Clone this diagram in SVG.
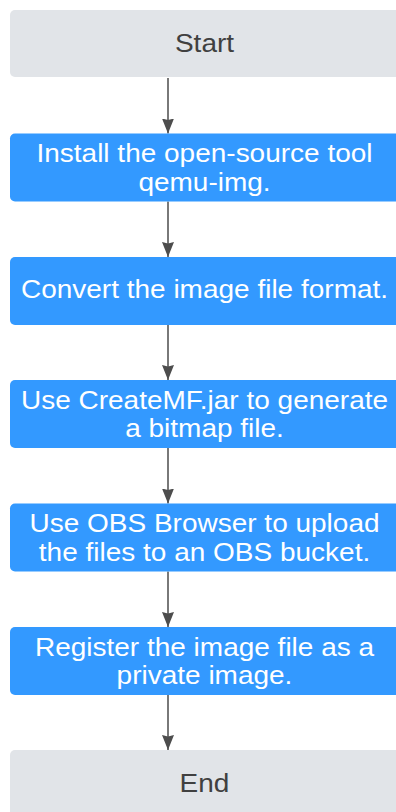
<svg xmlns="http://www.w3.org/2000/svg" width="396" height="812" viewBox="0 0 396 812">
<defs>
<style>
.term{fill:#e1e4e8;}
.step{fill:#3399ff;}
.t{font-family:"Liberation Sans",Arial,sans-serif;font-size:25px;text-anchor:middle;}
.tw{fill:#ffffff;}
.td{fill:#404040;}
.conn{stroke:#4d4d4d;stroke-width:1.5;fill:none;marker-end:url(#ah);}
</style>
<marker id="ah" markerUnits="userSpaceOnUse" markerWidth="15" markerHeight="12" viewBox="0 0 15 12" refX="15" refY="6" orient="auto">
<path d="M0,0 L15,6 L0,12 L1.5,6 Z" fill="#4d4d4d"/>
</marker>
</defs>
<rect width="396" height="812" fill="#ffffff"/>
<g id="connectors">
<line class="conn" x1="168" y1="78" x2="168" y2="133.5"/>
<line class="conn" x1="168" y1="201.5" x2="168" y2="257"/>
<line class="conn" x1="168" y1="325" x2="168" y2="380"/>
<line class="conn" x1="168" y1="448" x2="168" y2="503.5"/>
<line class="conn" x1="168" y1="571.5" x2="168" y2="627"/>
<line class="conn" x1="168" y1="695" x2="168" y2="750"/>
</g>
<g id="start">
<rect class="term" x="10" y="10" width="390" height="67" rx="5"/>
<g transform="translate(204.5,52) scale(1.12,1)"><text class="t td" x="0" y="0">Start</text></g>
</g>
<g id="install">
<rect class="step" x="10" y="133.5" width="390" height="68" rx="5"/>
<g transform="translate(204.5,162) scale(1.12,1)"><text class="t tw" x="0" y="0">Install the open-source tool</text></g>
<g transform="translate(204.5,191) scale(1.12,1)"><text class="t tw" x="0" y="0">qemu-img.</text></g>
</g>
<g id="convert">
<rect class="step" x="10" y="257" width="390" height="68" rx="5"/>
<g transform="translate(204.5,298) scale(1.12,1)"><text class="t tw" x="0" y="0">Convert the image file format.</text></g>
</g>
<g id="createmf">
<rect class="step" x="10" y="380" width="390" height="68" rx="5"/>
<g transform="translate(204.5,408.5) scale(1.12,1)"><text class="t tw" x="0" y="0">Use CreateMF.jar to generate</text></g>
<g transform="translate(204.5,437) scale(1.12,1)"><text class="t tw" x="0" y="0">a bitmap file.</text></g>
</g>
<g id="upload">
<rect class="step" x="10" y="503.5" width="390" height="68" rx="5"/>
<g transform="translate(204.5,532) scale(1.12,1)"><text class="t tw" x="0" y="0">Use OBS Browser to upload</text></g>
<g transform="translate(204.5,560.5) scale(1.12,1)"><text class="t tw" x="0" y="0">the files to an OBS bucket.</text></g>
</g>
<g id="register">
<rect class="step" x="10" y="627" width="390" height="68" rx="5"/>
<g transform="translate(204.5,655.5) scale(1.12,1)"><text class="t tw" x="0" y="0">Register the image file as a</text></g>
<g transform="translate(204.5,684) scale(1.12,1)"><text class="t tw" x="0" y="0">private image.</text></g>
</g>
<g id="end">
<rect class="term" x="10" y="750" width="390" height="68" rx="5"/>
<g transform="translate(204.5,792) scale(1.12,1)"><text class="t td" x="0" y="0">End</text></g>
</g>
</svg>
